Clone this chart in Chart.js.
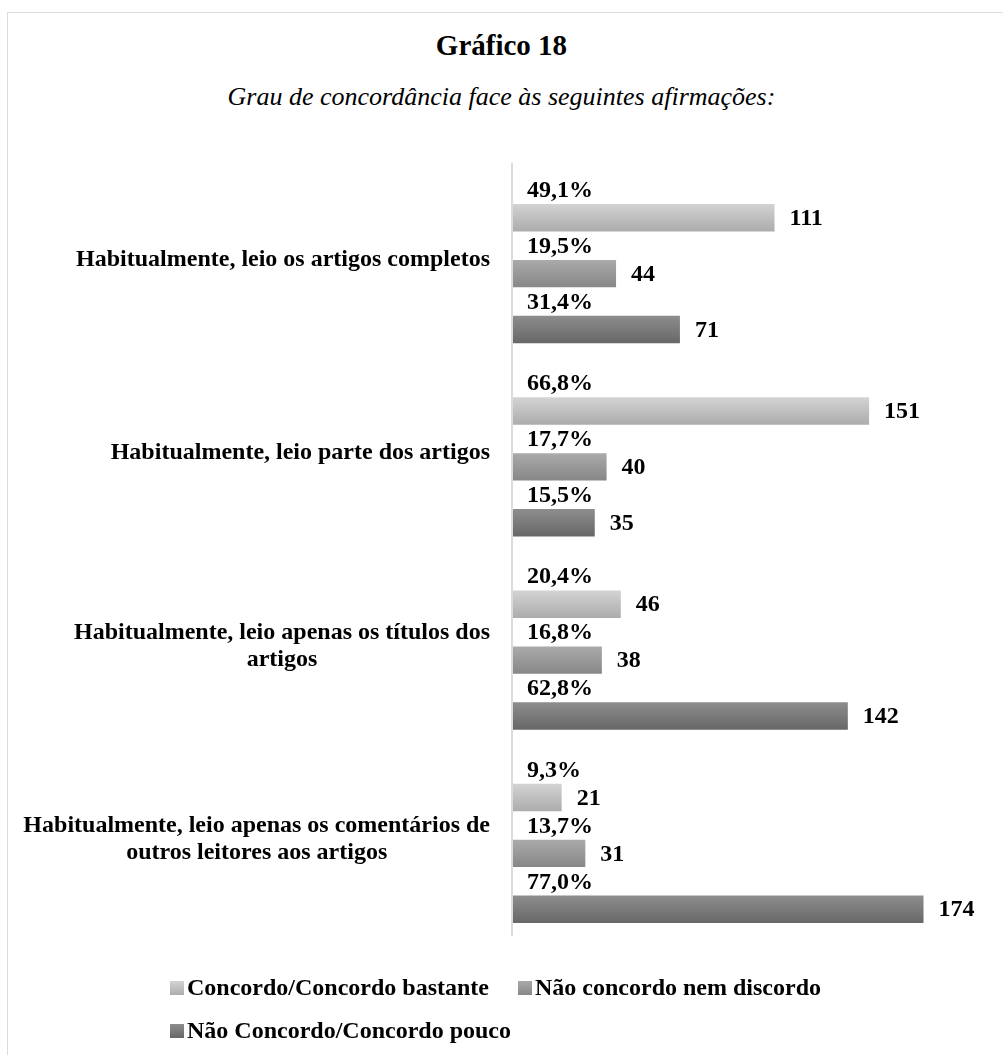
<!DOCTYPE html>
<html>
<head>
<meta charset="utf-8">
<script src="https://cdn.jsdelivr.net/npm/chart.js@4.4.1/dist/chart.umd.min.js"></script>
<style>
  body { margin: 0; background: #fff; font-family: "Liberation Serif", "Times New Roman", serif; }
  #wrap { position: relative; width: 1003px; height: 1055px; overflow: hidden; }
  #frame { position: absolute; left: 7px; top: 12px; width: 1010px; height: 1100px; border: 1px solid #d9dde2; box-sizing: border-box; }
  #title { position: absolute; left: 0; width: 1003px; top: 30px; line-height: 30px; text-align: center; font-weight: bold; font-size: 29px; }
  #subtitle { position: absolute; left: 0; width: 1003px; top: 82px; line-height: 30px; text-align: center; font-style: italic; font-size: 26px; }
  #chart { position: absolute; left: 0; top: 0; }
  .leg { position: absolute; font-weight: bold; font-size: 24px; line-height: 26px; white-space: nowrap; }
  .leg span.box { display: inline-block; width: 14px; height: 14px; margin-right: 3px; vertical-align: 0px; }
</style>
</head>
<body>
<div id="wrap">
  <div id="frame"></div>
  <div id="title">Gráfico 18</div>
  <div id="subtitle">Grau de concordância face às seguintes afirmações:</div>
  <canvas id="chart" width="1003" height="1055"></canvas>
</div>
<script>
'use strict';

// categorias e valores
var categories = [
  ['Habitualmente, leio os artigos completos'],
  ['Habitualmente, leio parte dos artigos'],
  ['Habitualmente, leio apenas os títulos dos', 'artigos'],
  ['Habitualmente, leio apenas os comentários de', 'outros leitores aos artigos']
];
var seriesNames = ['Concordo/Concordo bastante', 'Não concordo nem discordo', 'Não Concordo/Concordo pouco'];

var concordo = [111, 151, 46, 21];
var neutro = [44, 40, 38, 31];
var discordo = [71, 35, 142, 174];

var concordoPct = [49.1, 66.8, 20.4, 9.3];
var neutroPct = [19.5, 17.7, 16.8, 13.7];
var discordoPct = [31.4, 15.5, 62.8, 77.0];

// cores (topo, base) do degradê
var gradColors = [
  ['#d3d3d3', '#acacac'],
  ['#aaaaaa', '#878787'],
  ['#8d8d8d', '#676767']
];

var CAT_PCT = 0.868;
var BAR_PCT = 0.49;
var LABEL_SHIFT = -14;
var FONT = 'bold 24px "Liberation Serif", "Times New Roman", serif';

function barGradient(idx) {
  return function(context) {
    var chart = context.chart;
    var colors = gradColors[idx];
    var yScale = chart.scales.y;
    if (!chart.chartArea || !yScale || context.dataIndex === undefined) {
      return colors[0];
    }
    var band = yScale.height / categories.length;
    var slot = band * CAT_PCT / 3;
    var center = yScale.getPixelForValue(context.dataIndex) + (idx - 1) * slot;
    var h = slot * BAR_PCT / 2;
    var g = chart.ctx.createLinearGradient(0, center - h, 0, center + h);
    g.addColorStop(0, colors[0]);
    g.addColorStop(1, colors[1]);
    return g;
  };
}

var pctSets = [concordoPct, neutroPct, discordoPct];

var labelsPlugin = {
  id: 'labelsPlugin',
  afterDraw: function(chart) {
    var ctx = chart.ctx;
    var area = chart.chartArea;
    var yScale = chart.scales.y;

    // eixo vertical
    ctx.save();
    ctx.strokeStyle = '#d6dce3';
    ctx.lineWidth = 2;
    ctx.beginPath();
    ctx.moveTo(area.left, area.top + LABEL_SHIFT);
    ctx.lineTo(area.left, area.bottom + LABEL_SHIFT);
    ctx.stroke();

    // rótulos das categorias
    ctx.fillStyle = '#000';
    ctx.font = FONT;
    ctx.textBaseline = 'middle';
    ctx.textAlign = 'center';
    var lineH = 27;
    categories.forEach(function(lines, i) {
      var w = 0;
      lines.forEach(function(l) { w = Math.max(w, ctx.measureText(l).width); });
      var right = area.left - 22;
      var cx = right - w / 2;
      var cy = yScale.getPixelForValue(i) + LABEL_SHIFT;
      var y0 = cy - (lines.length - 1) * lineH / 2;
      lines.forEach(function(l, k) { ctx.fillText(l, cx, y0 + k * lineH); });
    });

    // rótulos de dados
    ctx.textAlign = 'left';
    chart.data.datasets.forEach(function(ds, d) {
      var meta = chart.getDatasetMeta(d);
      var slot = yScale.height / categories.length * CAT_PCT / 3;
      meta.data.forEach(function(bar, i) {
        ctx.fillText(String(ds.data[i]), bar.x + 15, bar.y + 1);
        var pct = pctSets[d][i].toFixed(1).replace('.', ',') + '%';
        ctx.fillText(pct, area.left + 15, bar.y - slot / 2 + 1);
      });
    });
    ctx.restore();
  }
};

var ctx = document.getElementById('chart').getContext('2d');
var myChart = new Chart(ctx, {
  type: 'bar',
  data: {
    labels: categories.map(function(c) { return c.join(' '); }),
    datasets: [
      { label: seriesNames[0], data: concordo, backgroundColor: barGradient(0) },
      { label: seriesNames[1], data: neutro, backgroundColor: barGradient(1) },
      { label: seriesNames[2], data: discordo, backgroundColor: barGradient(2) }
    ]
  },
  options: {
    indexAxis: 'y',
    responsive: false,
    devicePixelRatio: 1,
    animation: false,
    categoryPercentage: CAT_PCT,
    barPercentage: BAR_PCT,
    layout: { padding: { top: 177, bottom: 105, left: 0, right: 18 } },
    plugins: {
      legend: { display: false },
      title: { display: false },
      tooltip: { enabled: false }
    },
    scales: {
      x: { display: false, min: 0, max: 200 },
      y: {
        grid: { display: false },
        border: { display: false },
        ticks: { display: false },
        afterFit: function(scale) { scale.width = 512; }
      }
    }
  },
  plugins: [labelsPlugin]
});

// legenda
var legPos = [[170, 974], [518, 974], [170, 1017]];
var wrap = document.getElementById('wrap');
seriesNames.forEach(function(name, i) {
  var el = document.createElement('div');
  el.className = 'leg';
  el.style.left = legPos[i][0] + 'px';
  el.style.top = legPos[i][1] + 'px';
  el.innerHTML = '<span class="box" style="background:linear-gradient(' +
    gradColors[i][0] + ',' + gradColors[i][1] + ')"></span>' + name;
  wrap.appendChild(el);
});
</script>
</body>
</html>
